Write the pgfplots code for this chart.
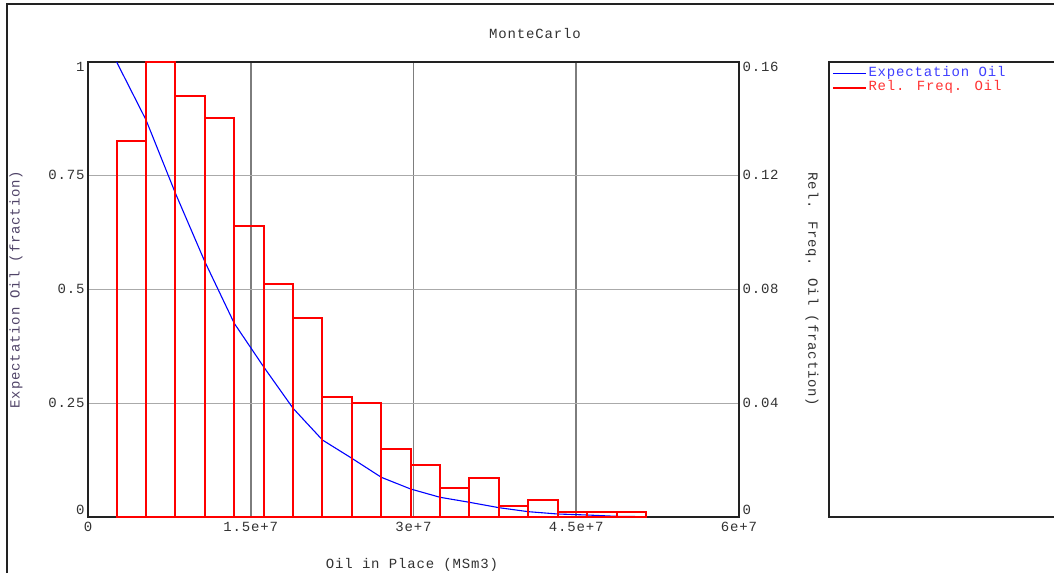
\documentclass[border=0pt]{standalone}
\usepackage{fontspec}
\setmainfont[LetterSpace=6]{Liberation Mono}
\usepackage{pgfplots}
\pgfplotsset{compat=1.18}
\definecolor{frame}{RGB}{34,34,34}
\definecolor{txt}{RGB}{50,50,50}
\definecolor{lbl}{RGB}{80,68,104}
\definecolor{gridv}{RGB}{125,125,125}
\definecolor{gridh}{RGB}{170,170,170}
\definecolor{expblue}{RGB}{0,0,255}
\definecolor{freqred}{RGB}{255,0,0}

% exceedance curve, read at the histogram bin edges
\pgfplotstableread{
x        p
2.64e6   1.000
5.35e6   0.8725
8.06e6   0.7114
1.077e7  0.5611
1.348e7  0.4257
1.619e7  0.330
1.890e7  0.2389
2.161e7  0.1692
2.432e7  0.1290
2.703e7  0.0873
2.974e7  0.0615
3.245e7  0.0433
3.516e7  0.0323
3.787e7  0.0205
4.058e7  0.0117
4.329e7  0.0066
4.600e7  0.0044
4.871e7  0.0015
5.142e7  0.0007
}\expect

% relative frequency, left bin edge and height (last row closes the interval)
\pgfplotstableread{
x        f
2.64e6   0.1322
5.35e6   0.1600
8.06e6   0.1481
1.077e7  0.1403
1.348e7  0.1022
1.619e7  0.0820
1.890e7  0.0700
2.161e7  0.0422
2.432e7  0.0400
2.703e7  0.0238
2.974e7  0.0182
3.245e7  0.0101
3.516e7  0.0138
3.787e7  0.0039
4.058e7  0.0060
4.329e7  0.0019
4.600e7  0.0019
4.871e7  0.0019
5.142e7  0
}\relfreq

\pgfplotsset{
  mc/.style={
    at={(88pt,56pt)}, anchor=south west,
    scale only axis, width=651pt, height=455pt,
    xmin=0, xmax=6e7,
    font=\fontsize{14}{16}\selectfont,
    ticklabel style={text=txt},
    major tick length=0pt,
    axis line style={line width=1.8pt, draw=frame},
  },
  bluekey/.style={legend image code/.code={%
    \pgfsetstrokecolor{expblue}\pgfsetlinewidth{1.3pt}%
    \pgfpathmoveto{\pgfpoint{0pt}{0pt}}\pgfpathlineto{\pgfpoint{33pt}{0pt}}\pgfusepath{stroke}}},
  redkey/.style={legend image code/.code={%
    \pgfsetstrokecolor{freqred}\pgfsetlinewidth{1.3pt}%
    \pgfpathmoveto{\pgfpoint{0pt}{0pt}}\pgfpathlineto{\pgfpoint{33pt}{0pt}}\pgfusepath{stroke}}},
}

\begin{document}
\begin{tikzpicture}[x=1pt,y=1pt]
\useasboundingbox (0,0) rectangle (1054,573);

\begin{axis}[mc,
  ymin=0, ymax=1,
  scaled x ticks=false,
  xtick={0,1.5e7,3e7,4.5e7,6e7},
  xticklabels={0,1.5e+7,3e+7,4.5e+7,6e+7},
  xticklabel style={anchor=center, yshift=-10pt},
  ytick={0,0.25,0.5,0.75,1},
  yticklabels={\raisebox{7pt}{0},0.25,0.5,0.75,\raisebox{-6pt}{1}},
  yticklabel style={anchor=base east, yshift=-4pt},
  xmajorgrids, ymajorgrids,
  major grid style={},
  every axis x grid/.append style={draw=gridv, line width=1.9pt},
  every axis y grid/.append style={draw=gridh, line width=1.3pt},
  every axis y label/.style={at={(axis description cs:-0.1106,0.5)}, rotate=90, anchor=center, text=lbl},
  ylabel={Expectation Oil (fraction)},
  every axis x label/.style={at={(axis description cs:0.4977,-0.1055)}, anchor=center, text=txt},
  xlabel={Oil in Place (MSm3)},
  title={MonteCarlo},
  every axis title/.style={at={(axis description cs:0.6866,1.0637)}, anchor=center, text=txt},
]
\addplot[expblue, line width=1.1pt] table[x=x, y=p] {\expect};
\end{axis}

\begin{axis}[mc,
  ymin=0, ymax=0.16,
  hide x axis,
  axis y line*=right,
  ytick={0,0.04,0.08,0.12,0.16},
  yticklabels={\raisebox{7pt}{0},0.04,0.08,0.12,\raisebox{-6pt}{0.16}},
  yticklabel style={anchor=base west, yshift=-4pt},
  every axis y label/.style={at={(axis description cs:1.1121,0.5)}, rotate=-90, anchor=center, text=txt},
  ylabel={Rel. Freq. Oil (fraction)},
  legend cell align=left,
  legend style={at={(axis description cs:1.14286,0.9895)}, anchor=north west,
    fill=none, draw=none, inner sep=0pt, row sep=1.4pt,
    font=\fontsize{14}{16}\selectfont,
    nodes={inner ysep=0.5pt, text height=9pt, text depth=3pt}},
]
\addlegendimage{bluekey}
\addlegendentry{\textcolor{expblue!75}{Expectation Oil}}
\addplot[ybar interval, draw=freqred, fill=none, line width=2pt, forget plot]
  table[x=x, y=f] {\relfreq};
\addlegendimage{redkey}
\addlegendentry{\textcolor{freqred!80}{Rel. Freq. Oil}}
\end{axis}

% window frame and legend panel
\draw[frame, line width=1.5pt] (7,0) -- (7,569) -- (1060,569);
\draw[frame, line width=1.5pt] (1060,56) -- (829,56) -- (829,511) -- (1060,511);
\end{tikzpicture}
\end{document}
